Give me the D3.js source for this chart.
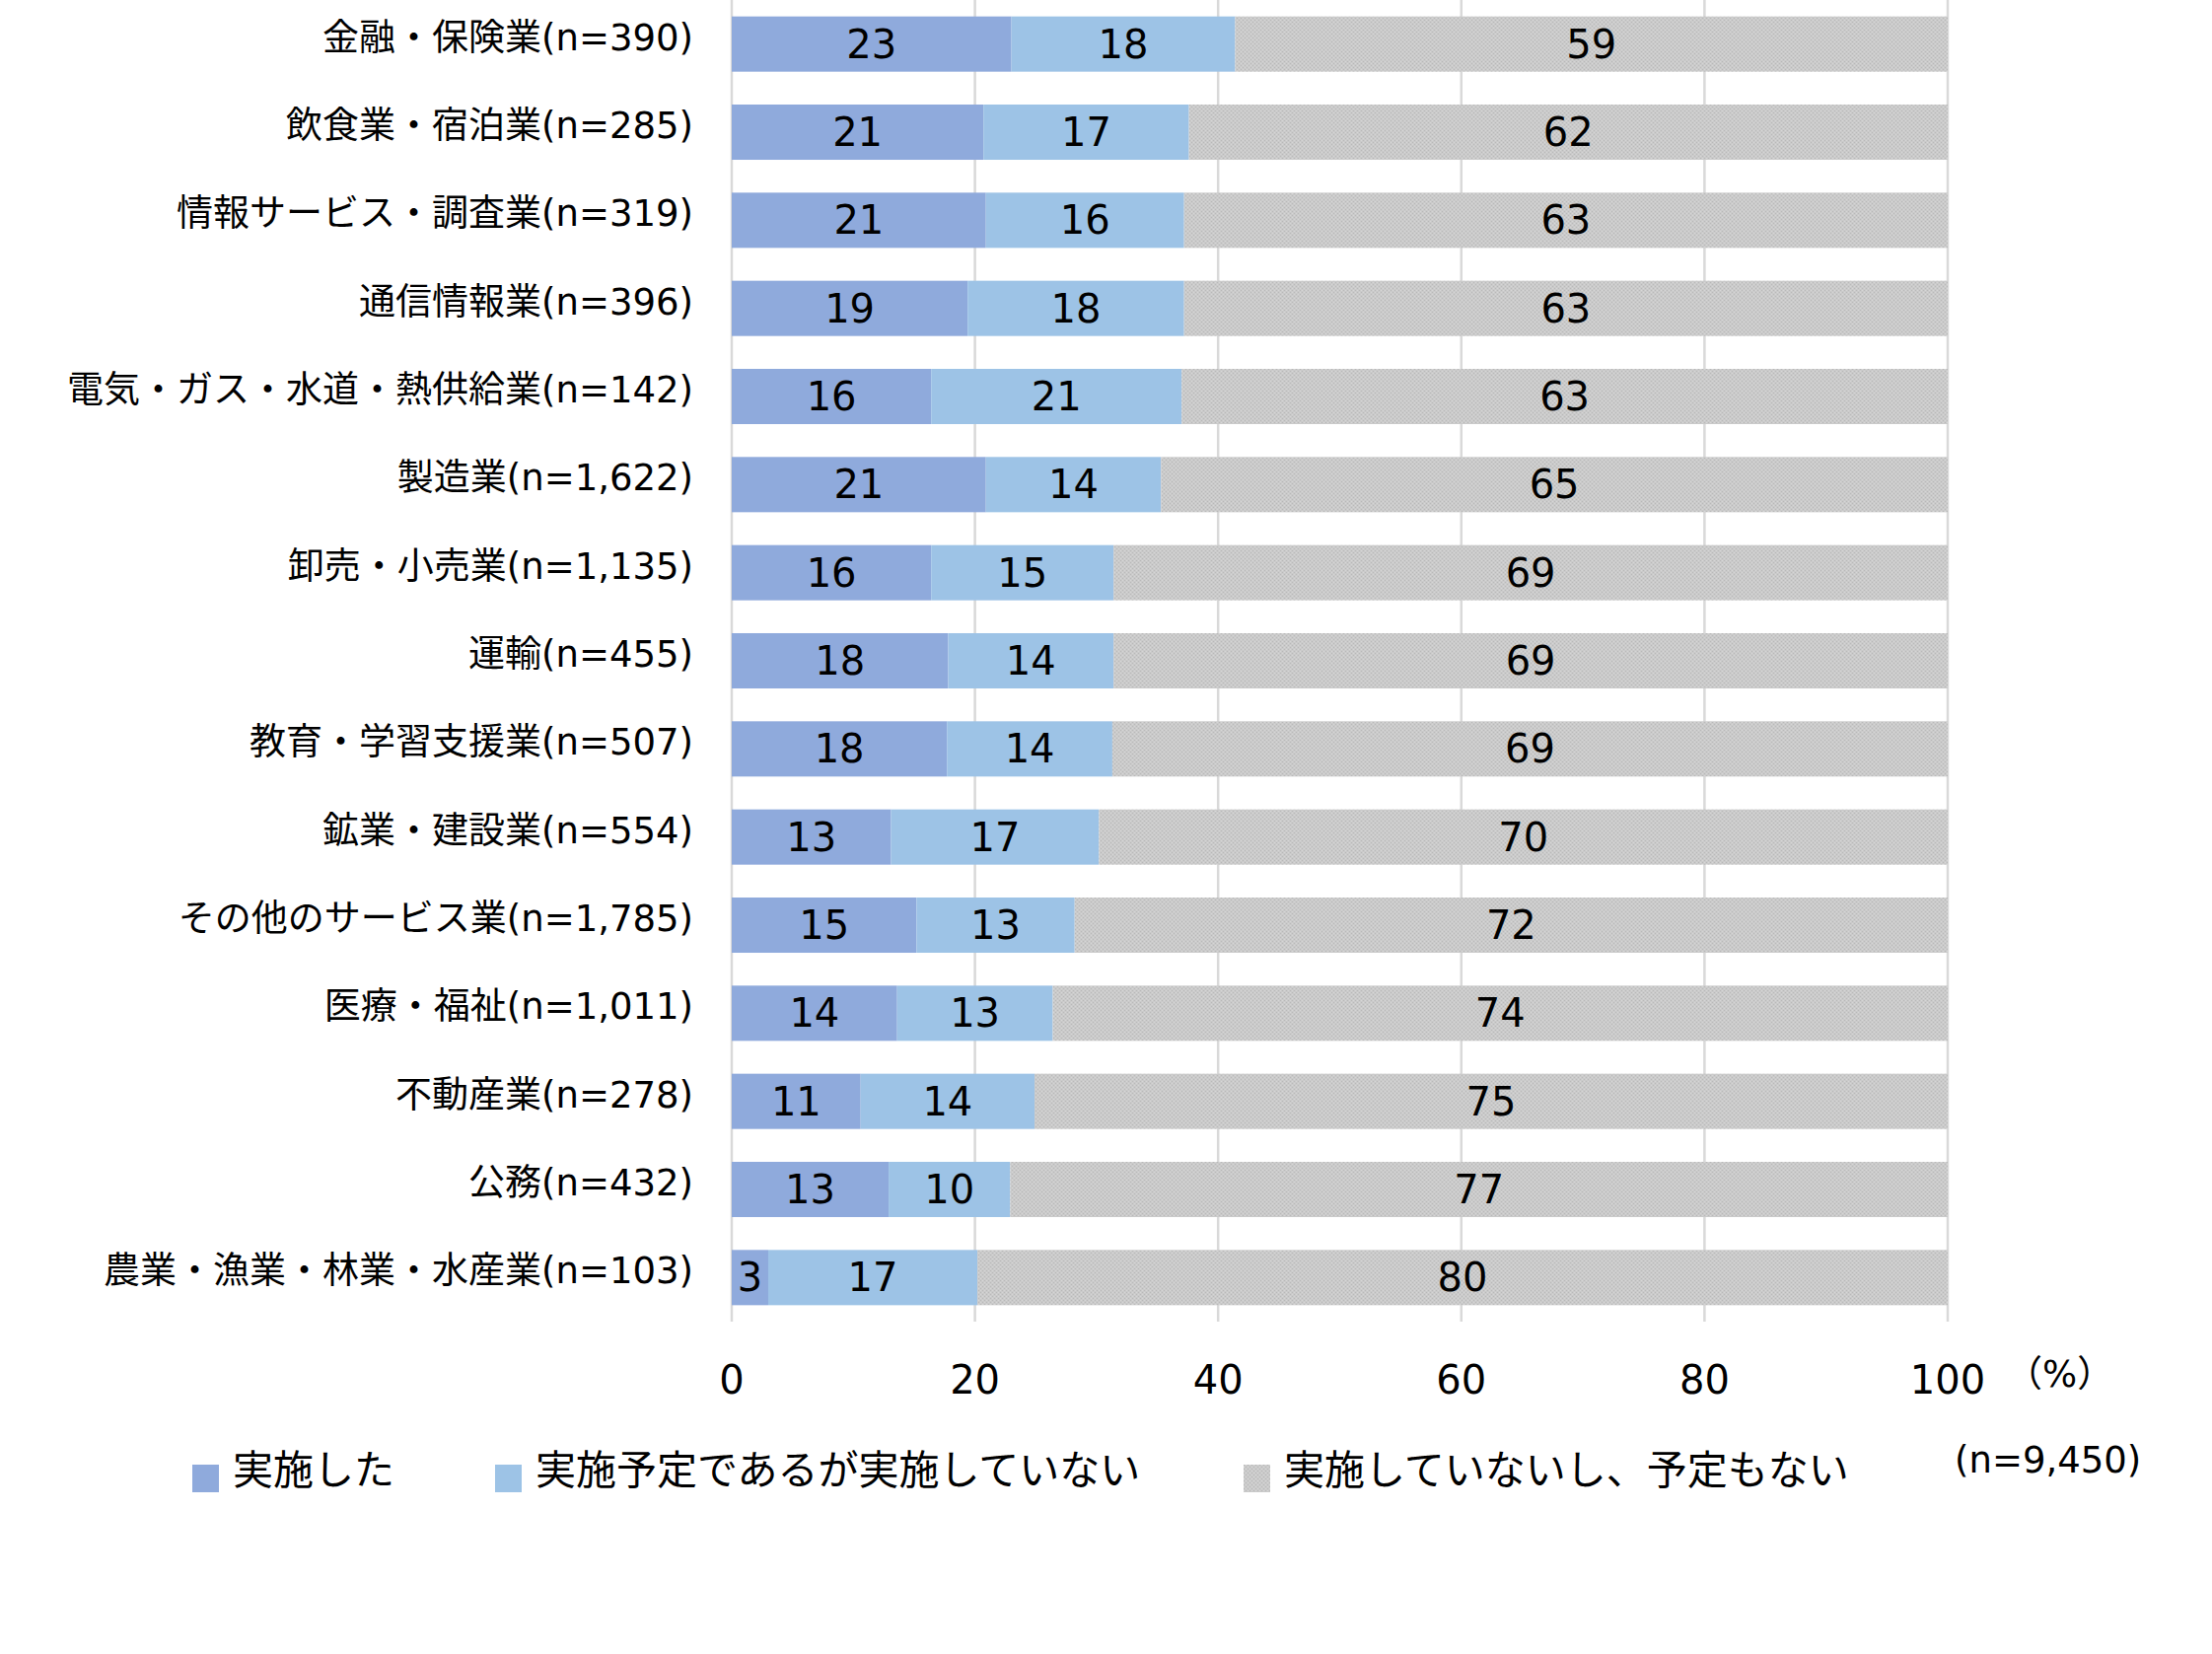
<!DOCTYPE html>
<html>
<head>
<meta charset="utf-8">
<script src="https://cdn.jsdelivr.net/npm/d3@7"></script>
<style>
  body { margin: 0; background: #fff; }
  text { fill: #000; }
</style>
</head>
<body>
<div id="chart"></div>
<script>
// Categories (top to bottom)
let categories = [
  '金融・保険業(n=390)',
  '飲食業・宿泊業(n=285)',
  '情報サービス・調査業(n=319)',
  '通信情報業(n=396)',
  '電気・ガス・水道・熱供給業(n=142)',
  '製造業(n=1,622)',
  '卸売・小売業(n=1,135)',
  '運輸(n=455)',
  '教育・学習支援業(n=507)',
  '鉱業・建設業(n=554)',
  'その他のサービス業(n=1,785)',
  '医療・福祉(n=1,011)',
  '不動産業(n=278)',
  '公務(n=432)',
  '農業・漁業・林業・水産業(n=103)'
];

// Series values (%)
let done = [23.0, 20.7, 20.9, 19.4, 16.4, 20.9, 16.4, 17.8, 17.7, 13.1, 15.2, 13.6, 10.6, 12.9, 3.0];
let planned = [18.4, 16.9, 16.3, 17.8, 20.6, 14.4, 15.0, 13.6, 13.6, 17.1, 13.0, 12.8, 14.3, 10.0, 17.2];
let none = [58.6, 62.4, 62.8, 62.8, 63.0, 64.7, 68.6, 68.6, 68.7, 69.8, 71.8, 73.6, 75.1, 77.1, 79.8];

let seriesNames = ['実施した', '実施予定であるが実施していない', '実施していないし、予定もない'];
let xTicks = [0, 20, 40, 60, 80, 100];

let svgWidth = 2243;
let svgHeight = 1677;

let colors = ['#8faadc', '#9dc3e6', 'url(#grayDots)'];

let svg = d3.select('#chart')
  .append('svg')
  .attr('width', svgWidth)
  .attr('height', svgHeight);

// dotted grey fill like the original
let pat = svg.append('defs').append('pattern')
  .attr('id', 'grayDots')
  .attr('patternUnits', 'userSpaceOnUse')
  .attr('width', 4)
  .attr('height', 4);
pat.append('rect').attr('width', 4).attr('height', 4).attr('fill', '#cacaca');
pat.append('rect').attr('x', 0).attr('y', 0).attr('width', 1).attr('height', 1).attr('fill', '#b9b9b9');
pat.append('rect').attr('x', 2).attr('y', 2).attr('width', 1).attr('height', 1).attr('fill', '#b9b9b9');
pat.append('rect').attr('x', 2).attr('y', 0).attr('width', 1).attr('height', 1).attr('fill', '#d6d6d6');
pat.append('rect').attr('x', 0).attr('y', 2).attr('width', 1).attr('height', 1).attr('fill', '#d6d6d6');

// scales
let xScale = d3.scaleLinear()
  .domain([0, 100])
  .range([742, 1975]);

let yScale = d3.scaleBand()
  .domain(categories)
  .range([0, 1340])
  .paddingInner(0.373)
  .paddingOuter(0.1865);

// gridlines
svg.append('g')
  .selectAll('line')
  .data(xTicks)
  .enter()
  .append('line')
  .attr('x1', d => xScale(d))
  .attr('x2', d => xScale(d))
  .attr('y1', 0)
  .attr('y2', 1340)
  .attr('stroke', '#d9d9d9')
  .attr('stroke-width', 2.5);

// stack the three series
let rows = categories.map((c, i) => ({cat: c, done: done[i], planned: planned[i], none: none[i]}));
let stack = d3.stack().keys(['done', 'planned', 'none']);
let layers = stack(rows);

let layerGroups = svg.append('g')
  .selectAll('g')
  .data(layers)
  .enter()
  .append('g')
  .attr('fill', (d, i) => colors[i]);

layerGroups.selectAll('rect')
  .data(d => d)
  .enter()
  .append('rect')
  .attr('x', d => xScale(d[0]))
  .attr('y', d => yScale(d.data.cat))
  .attr('width', d => xScale(d[1]) - xScale(d[0]))
  .attr('height', yScale.bandwidth());

// value labels
layerGroups.selectAll('text')
  .data(d => d)
  .enter()
  .append('text')
  .attr('x', d => (xScale(d[0]) + xScale(d[1])) / 2)
  .attr('y', d => yScale(d.data.cat) + yScale.bandwidth() / 2 + 14)
  .attr('text-anchor', 'middle')
  .attr('font-family', 'DejaVu Sans, Verdana, sans-serif')
  .attr('font-size', '40px')
  .style('fill', '#000')
  .text(d => Math.round(d[1] - d[0]));

// category labels
svg.append('g')
  .selectAll('text')
  .data(categories)
  .enter()
  .append('text')
  .attr('x', 703)
  .attr('y', d => yScale(d) + yScale.bandwidth() / 2 + 6)
  .attr('text-anchor', 'end')
  .attr('font-family', 'DejaVu Sans, Noto Sans CJK JP, sans-serif')
  .attr('font-size', '37px')
  .text(d => d);

// x axis tick labels
svg.append('g')
  .selectAll('text')
  .data(xTicks)
  .enter()
  .append('text')
  .attr('x', d => xScale(d))
  .attr('y', 1413)
  .attr('text-anchor', 'middle')
  .attr('font-family', 'DejaVu Sans, Verdana, sans-serif')
  .attr('font-size', '40px')
  .text(d => d);

svg.append('text')
  .attr('x', 2034)
  .attr('y', 1406)
  .attr('font-family', 'DejaVu Sans, Noto Sans CJK JP, sans-serif')
  .attr('font-size', '37px')
  .text('（%）');

svg.append('text')
  .attr('x', 1982)
  .attr('y', 1493)
  .attr('font-family', 'DejaVu Sans, Noto Sans CJK JP, sans-serif')
  .attr('font-size', '37px')
  .text('(n=9,450)');

// legend
let legendX = [195, 502, 1261];
let legend = svg.append('g')
  .selectAll('g')
  .data(seriesNames)
  .enter()
  .append('g')
  .attr('transform', (d, i) => `translate(${legendX[i]}, 1485)`);

legend.append('rect')
  .attr('width', 27)
  .attr('height', 28)
  .attr('fill', (d, i) => colors[i]);

legend.append('text')
  .attr('x', 41)
  .attr('y', 20)
  .attr('font-family', 'Noto Sans CJK JP, sans-serif')
  .attr('font-size', '41px')
  .text(d => d);
</script>
</body>
</html>
